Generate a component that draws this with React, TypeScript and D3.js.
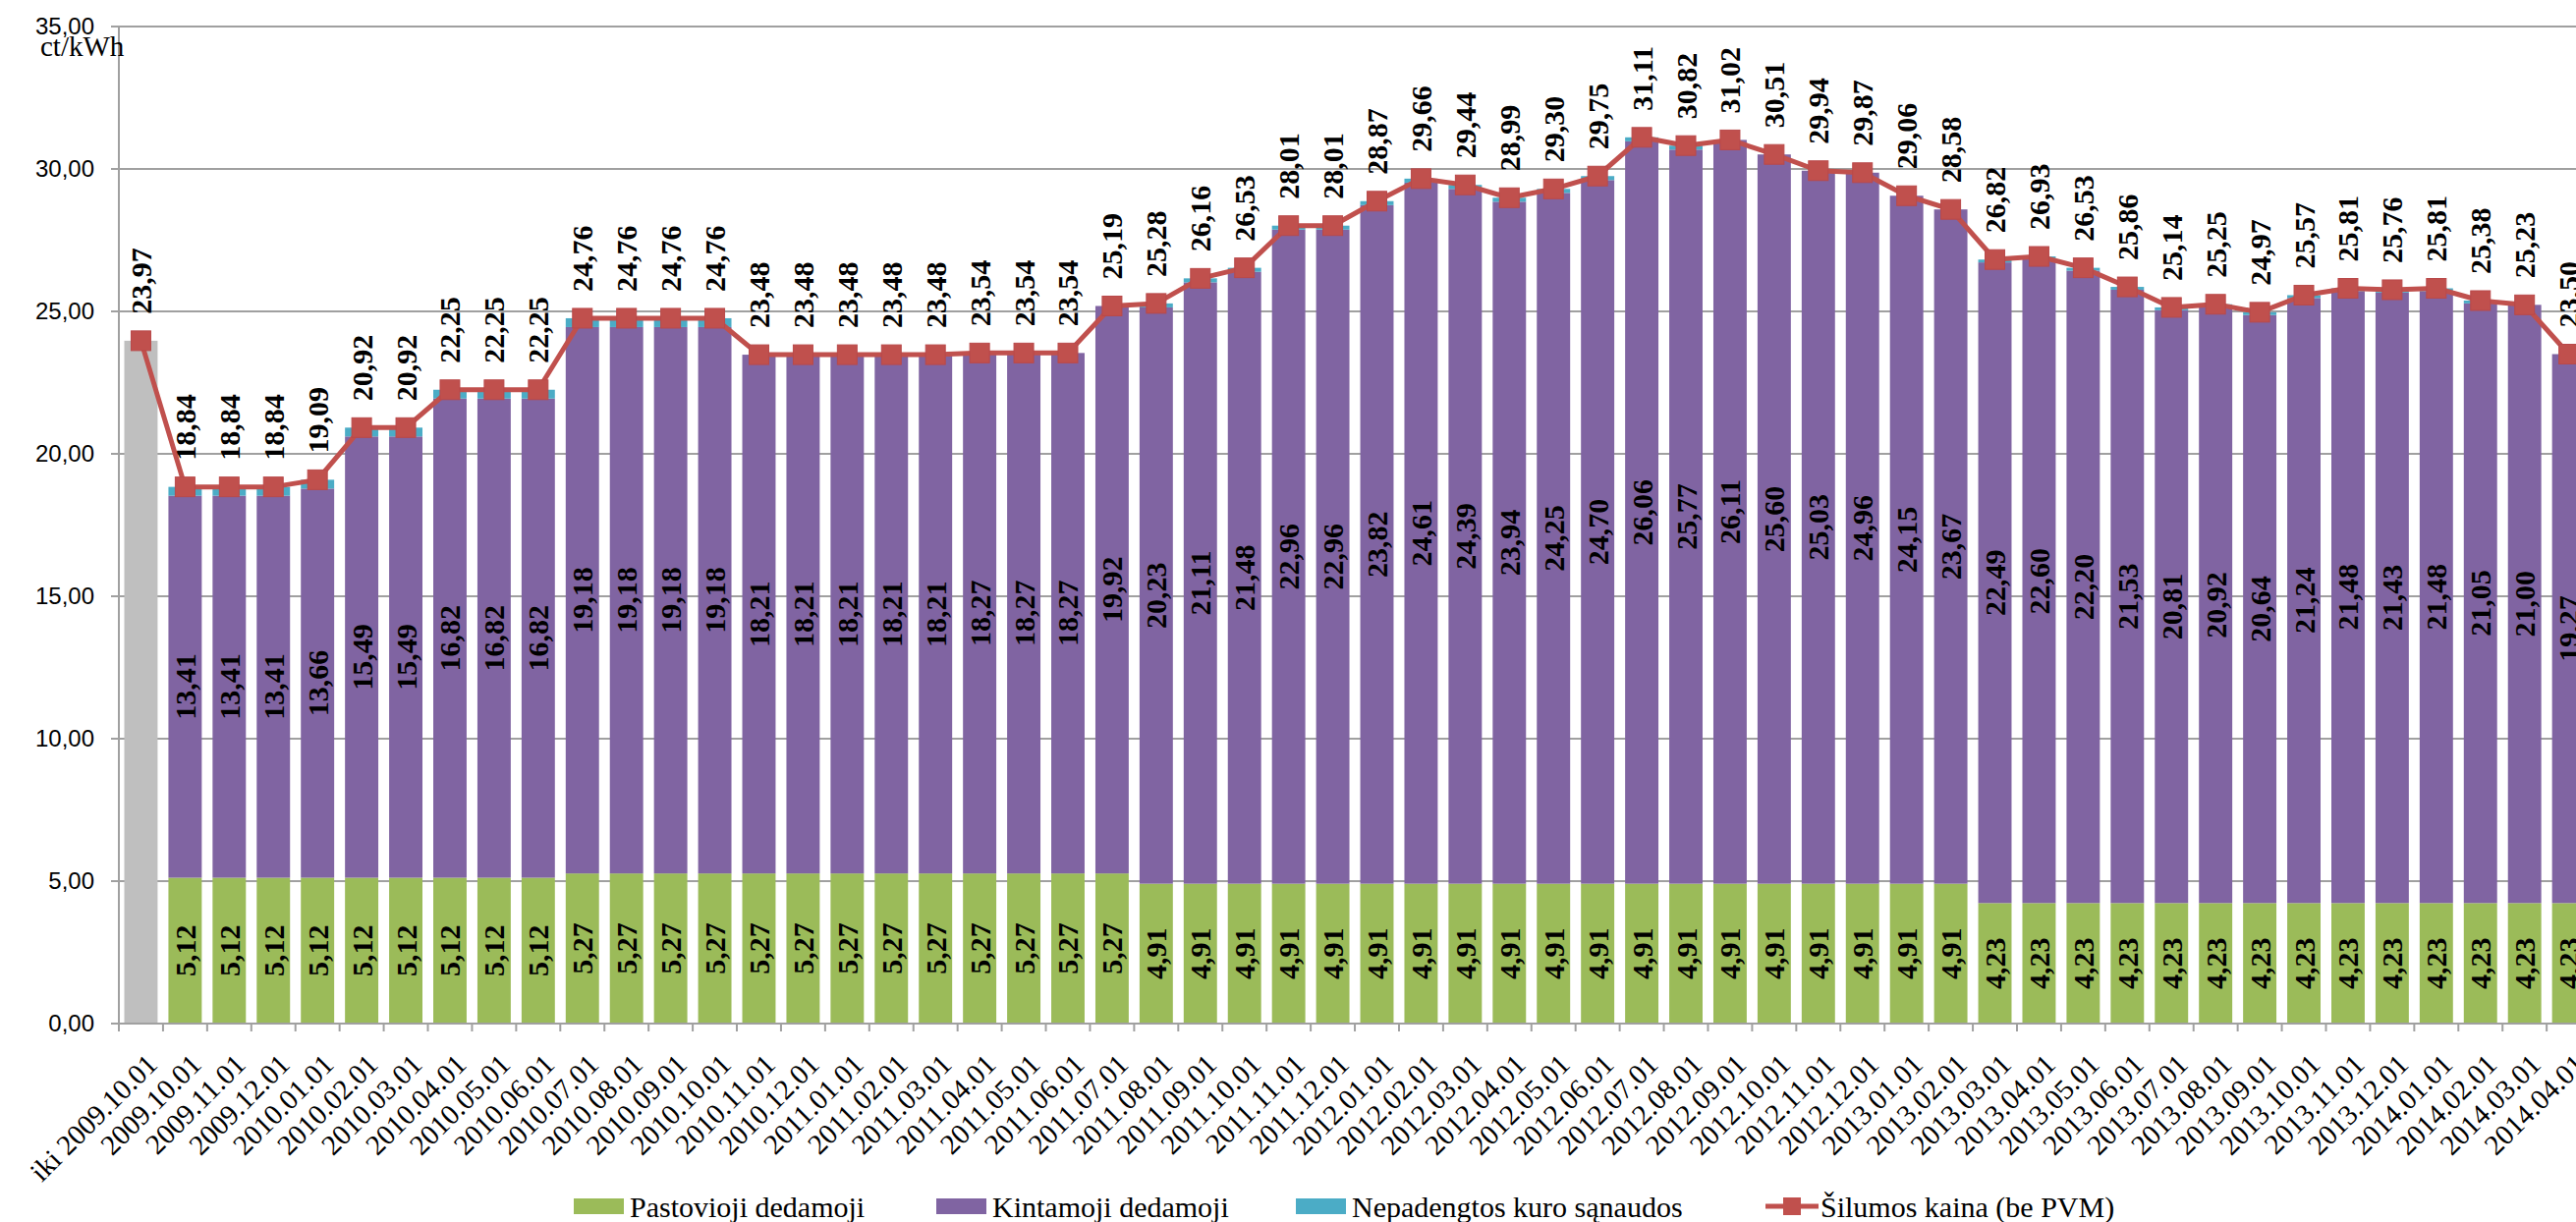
import React, { useEffect, useRef } from 'react';
import * as d3 from 'd3';

const categories = [
  'iki 2009.10.01', '2009.10.01', '2009.11.01', '2009.12.01', '2010.01.01', '2010.02.01', '2010.03.01',
  '2010.04.01', '2010.05.01', '2010.06.01', '2010.07.01', '2010.08.01', '2010.09.01', '2010.10.01',
  '2010.11.01', '2010.12.01', '2011.01.01', '2011.02.01', '2011.03.01', '2011.04.01', '2011.05.01',
  '2011.06.01', '2011.07.01', '2011.08.01', '2011.09.01', '2011.10.01', '2011.11.01', '2011.12.01',
  '2012.01.01', '2012.02.01', '2012.03.01', '2012.04.01', '2012.05.01', '2012.06.01', '2012.07.01',
  '2012.08.01', '2012.09.01', '2012.10.01', '2012.11.01', '2012.12.01', '2013.01.01', '2013.02.01',
  '2013.03.01', '2013.04.01', '2013.05.01', '2013.06.01', '2013.07.01', '2013.08.01', '2013.09.01',
  '2013.10.01', '2013.11.01', '2013.12.01', '2014.01.01', '2014.02.01', '2014.03.01', '2014.04.01',
];

// kaina iki 2009.10.01 (pilkas stulpelis)
const ikiKaina = 23.97;

const pastovioji = [
  0, 5.12, 5.12, 5.12, 5.12, 5.12, 5.12, 5.12, 5.12, 5.12,
  5.27, 5.27, 5.27, 5.27, 5.27, 5.27, 5.27, 5.27, 5.27, 5.27, 5.27, 5.27, 5.27,
  4.91, 4.91, 4.91, 4.91, 4.91, 4.91, 4.91, 4.91, 4.91, 4.91, 4.91, 4.91, 4.91,
  4.91, 4.91, 4.91, 4.91, 4.91, 4.91,
  4.23, 4.23, 4.23, 4.23, 4.23, 4.23, 4.23, 4.23, 4.23, 4.23, 4.23, 4.23, 4.23, 4.23,
];

const kintamoji = [
  0, 13.41, 13.41, 13.41, 13.66, 15.49, 15.49, 16.82, 16.82, 16.82,
  19.18, 19.18, 19.18, 19.18, 18.21, 18.21, 18.21, 18.21, 18.21, 18.27, 18.27, 18.27, 19.92,
  20.23, 21.11, 21.48, 22.96, 22.96, 23.82, 24.61, 24.39, 23.94, 24.25, 24.70, 26.06,
  25.77, 26.11, 25.60, 25.03, 24.96, 24.15, 23.67,
  22.49, 22.60, 22.20, 21.53, 20.81, 20.92, 20.64, 21.24, 21.48, 21.43, 21.48, 21.05, 21.00, 19.27,
];

const nepadengtos = [
  0, 0.31, 0.31, 0.31, 0.31, 0.31, 0.31, 0.31, 0.31, 0.31,
  0.31, 0.31, 0.31, 0.31, 0, 0, 0, 0, 0, 0, 0, 0, 0,
  0.14, 0.14, 0.14, 0.14, 0.14, 0.14, 0.14, 0.14, 0.14, 0.14, 0.14, 0.14, 0.14,
  0, 0, 0, 0, 0, 0,
  0.10, 0.10, 0.10, 0.10, 0.10, 0.10, 0.10, 0.10, 0.10, 0.10, 0.10, 0.10, 0, 0,
];

const kaina = [
  23.97, 18.84, 18.84, 18.84, 19.09, 20.92, 20.92, 22.25, 22.25, 22.25,
  24.76, 24.76, 24.76, 24.76, 23.48, 23.48, 23.48, 23.48, 23.48, 23.54, 23.54, 23.54, 25.19,
  25.28, 26.16, 26.53, 28.01, 28.01, 28.87, 29.66, 29.44, 28.99, 29.30, 29.75, 31.11,
  30.82, 31.02, 30.51, 29.94, 29.87, 29.06, 28.58,
  26.82, 26.93, 26.53, 25.86, 25.14, 25.25, 24.97, 25.57, 25.81, 25.76, 25.81, 25.38, 25.23, 23.50,
];

const yTicks = [0, 5, 10, 15, 20, 25, 30, 35];

const legendItems = [
  { label: 'Pastovioji dedamoji', color: '#9BBB59', type: 'bar' },
  { label: 'Kintamoji dedamoji', color: '#8064A2', type: 'bar' },
  { label: 'Nepadengtos kuro sąnaudos', color: '#4BACC6', type: 'bar' },
  { label: 'Šilumos kaina (be PVM)', color: '#C0504D', type: 'line' },
];

const fmt = (v: number) => d3.format('.2f')(v).replace('.', ',');

const App = () => {
  const svgRef = useRef<SVGSVGElement>(null);

  useEffect(() => {
    const width = 2622;
    const height = 1244;
    const axisX = 121;
    const step = 44.93;

    const svg = d3.select(svgRef.current)
      .attr('width', width)
      .attr('height', height);
    svg.selectAll('*').remove();

    const x = d3.scaleBand<string>()
      .domain(categories)
      .range([axisX, axisX + step * categories.length])
      .paddingInner(0.245)
      .paddingOuter(0.1225);

    const y = d3.scaleLinear().domain([0, 35]).range([1042, 27]);

    const serif = '"Liberation Serif", "Times New Roman", serif';
    const sans = '"Liberation Sans", Arial, sans-serif';
    const gridColor = '#A0A0A0';

    // gridlines + y ticks
    svg.append('g')
      .selectAll('line')
      .data(yTicks)
      .enter()
      .append('line')
      .attr('x1', axisX - 8)
      .attr('x2', width)
      .attr('y1', d => y(d))
      .attr('y2', d => y(d))
      .attr('stroke', gridColor)
      .attr('stroke-width', 2);

    svg.append('g')
      .selectAll('text')
      .data(yTicks)
      .enter()
      .append('text')
      .attr('x', 96)
      .attr('y', d => y(d))
      .attr('dy', '0.35em')
      .attr('text-anchor', 'end')
      .attr('font-family', sans)
      .attr('font-size', 24)
      .attr('fill', '#000')
      .text(d => fmt(d));

    // y axis line
    svg.append('line')
      .attr('x1', axisX).attr('x2', axisX)
      .attr('y1', y(35)).attr('y2', y(0) + 8)
      .attr('stroke', gridColor).attr('stroke-width', 2);

    // x axis ticks
    svg.append('g')
      .selectAll('line')
      .data(d3.range(categories.length + 1))
      .enter()
      .append('line')
      .attr('x1', i => axisX + i * step)
      .attr('x2', i => axisX + i * step)
      .attr('y1', y(0))
      .attr('y2', y(0) + 8)
      .attr('stroke', gridColor)
      .attr('stroke-width', 2);

    const bw = x.bandwidth();

    // grey bar
    svg.append('rect')
      .attr('x', x(categories[0]) as number)
      .attr('y', y(ikiKaina))
      .attr('width', bw)
      .attr('height', y(0) - y(ikiKaina))
      .attr('fill', '#BFBFBF');

    // stacked bars
    const layers = [
      { values: pastovioji, color: '#9BBB59' },
      { values: kintamoji, color: '#8064A2' },
      { values: nepadengtos, color: '#4BACC6' },
    ];
    const base = categories.map(() => 0);
    layers.forEach(layer => {
      const g = svg.append('g');
      categories.forEach((c, i) => {
        const v = layer.values[i];
        if (!v) return;
        const y0 = base[i];
        const y1 = y0 + v;
        g.append('rect')
          .attr('x', x(c) as number)
          .attr('y', y(y1))
          .attr('width', bw)
          .attr('height', y(y0) - y(y1))
          .attr('fill', layer.color);
        base[i] = y1;
      });
    });

    // x axis line
    svg.append('line')
      .attr('x1', axisX - 8).attr('x2', width)
      .attr('y1', y(0)).attr('y2', y(0))
      .attr('stroke', gridColor).attr('stroke-width', 2);

    // category labels
    svg.append('g')
      .selectAll('text')
      .data(categories)
      .enter()
      .append('text')
      .attr('transform', d => `translate(${(x(d) as number) + bw / 2 + 11},${y(0) + 36}) rotate(-45)`)
      .attr('text-anchor', 'end')
      .attr('dy', '0.35em')
      .attr('font-family', serif)
      .attr('font-size', 29)
      .attr('fill', '#000')
      .text(d => d);

    // line
    const cx = (i: number) => (x(categories[i]) as number) + bw / 2;
    const line = d3.line<number>()
      .x((d, i) => cx(i))
      .y(d => y(d));

    svg.append('path')
      .datum(kaina)
      .attr('d', line)
      .attr('fill', 'none')
      .attr('stroke', '#C0504D')
      .attr('stroke-width', 5)
      .attr('stroke-linejoin', 'round');

    svg.append('g')
      .selectAll('rect')
      .data(kaina)
      .enter()
      .append('rect')
      .attr('x', (d, i) => cx(i) - 10)
      .attr('y', d => y(d) - 10)
      .attr('width', 20)
      .attr('height', 20)
      .attr('fill', '#C0504D')
      .attr('stroke', '#B9494A')
      .attr('stroke-width', 1);

    // data labels
    const labelFont = (sel: any) => sel
      .attr('font-family', serif)
      .attr('font-size', 30)
      .attr('font-weight', 'bold')
      .attr('fill', '#000');

    // totals above line
    svg.append('g')
      .selectAll('text')
      .data(kaina)
      .enter()
      .append('text')
      .attr('transform', (d, i) => `translate(${cx(i)},${y(d) - 27}) rotate(-90)`)
      .attr('text-anchor', 'start')
      .attr('dy', '0.35em')
      .call(labelFont)
      .text(d => fmt(d));

    // inner labels
    const innerG = svg.append('g');
    categories.forEach((c, i) => {
      const g = pastovioji[i];
      const k = kintamoji[i];
      if (g) {
        innerG.append('text')
          .attr('transform', `translate(${cx(i)},${y(g / 2)}) rotate(-90)`)
          .attr('text-anchor', 'middle')
          .attr('dy', '0.35em')
          .call(labelFont)
          .text(fmt(g));
      }
      if (k) {
        innerG.append('text')
          .attr('transform', `translate(${cx(i)},${y(g + k / 2)}) rotate(-90)`)
          .attr('text-anchor', 'middle')
          .attr('dy', '0.35em')
          .call(labelFont)
          .text(fmt(k));
      }
    });

    // unit
    svg.append('text')
      .attr('x', 41)
      .attr('y', 57)
      .attr('font-family', serif)
      .attr('font-size', 29)
      .attr('fill', '#000')
      .text('ct/kWh');

    // legend
    const legendX = [584, 953, 1319, 1797];
    const ly = 1228;
    const legend = svg.append('g');
    legendItems.forEach((item, i) => {
      const lx = legendX[i];
      if (item.type === 'bar') {
        legend.append('rect')
          .attr('x', lx).attr('y', ly - 8)
          .attr('width', 51).attr('height', 16)
          .attr('fill', item.color);
        legend.append('text')
          .attr('x', lx + 57).attr('y', ly)
          .attr('dy', '0.35em')
          .attr('font-family', serif).attr('font-size', 30).attr('fill', '#000')
          .text(item.label);
      } else {
        legend.append('line')
          .attr('x1', lx).attr('x2', lx + 54)
          .attr('y1', ly).attr('y2', ly)
          .attr('stroke', item.color).attr('stroke-width', 5);
        legend.append('rect')
          .attr('x', lx + 18).attr('y', ly - 9)
          .attr('width', 18).attr('height', 18)
          .attr('fill', item.color);
        legend.append('text')
          .attr('x', lx + 56).attr('y', ly)
          .attr('dy', '0.35em')
          .attr('font-family', serif).attr('font-size', 30).attr('fill', '#000')
          .text(item.label);
      }
    });
  }, []);

  return (
    <svg ref={svgRef} width={2622} height={1244}
      style={{ position: 'absolute', left: 0, top: 0, display: 'block', background: '#fff' }} />
  );
};

export default App;
